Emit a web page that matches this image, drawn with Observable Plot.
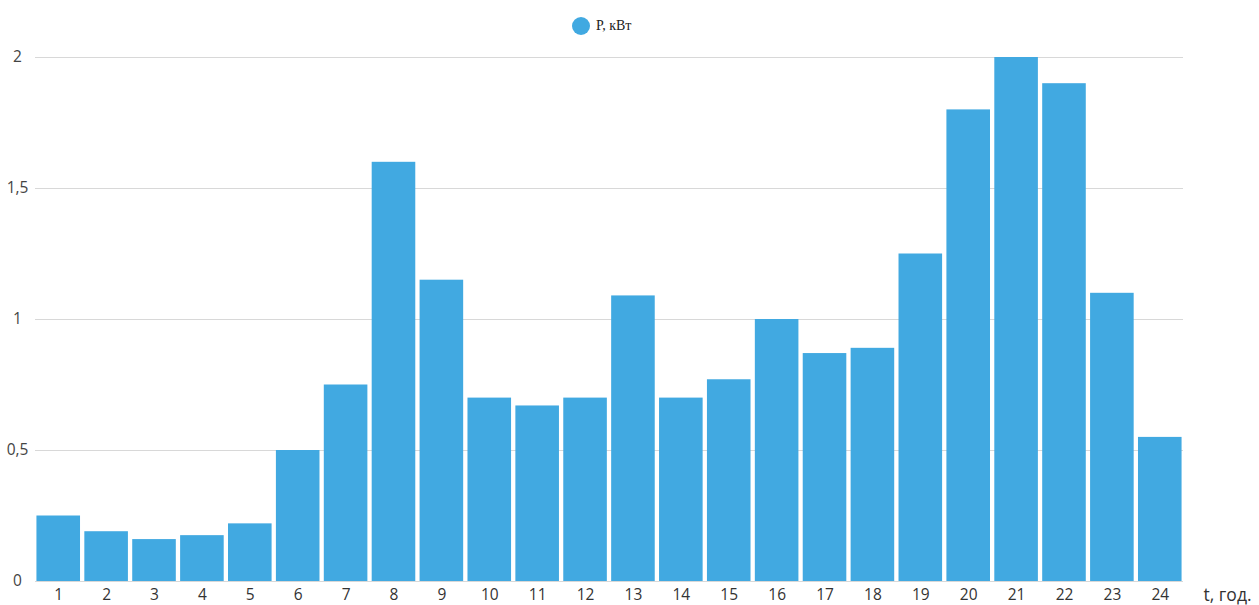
<!DOCTYPE html>
<html>
<head>
<meta charset="utf-8">
<script src="https://cdn.jsdelivr.net/npm/d3@7"></script>
<script src="https://cdn.jsdelivr.net/npm/@observablehq/plot@0.6"></script>
<style>
  html, body { margin: 0; padding: 0; background: #fff; }
  #wrap { position: relative; width: 1259px; height: 605px; font-family: "Open Sans", sans-serif; }
  #legend { position: absolute; left: 572px; top: 17px; height: 18px; display: flex; align-items: center; font-size: 14px; color: #222; font-family: "Liberation Serif", serif; }
  #legend .dot { width: 18px; height: 18px; border-radius: 50%; background: #41A9E1; margin-right: 6px; }
  #chart { position: absolute; left: 0; top: 40px; }
</style>
</head>
<body>
<div id="wrap">
  <div id="legend"><span class="dot"></span><span>P, кВт</span></div>
  <div id="chart"></div>
</div>
<script>
// Hourly power consumption, kW
const hours = [1, 2, 3, 4, 5, 6, 7, 8, 9, 10, 11, 12, 13, 14, 15, 16, 17, 18, 19, 20, 21, 22, 23, 24];
const power = [0.25, 0.19, 0.16, 0.175, 0.22, 0.5, 0.75, 1.6, 1.15, 0.7, 0.67, 0.7, 1.09, 0.7, 0.77, 1.0, 0.87, 0.89, 1.25, 1.8, 2.0, 1.9, 1.1, 0.55];
const yTicks = [0, 0.5, 1, 1.5, 2];
const xLabel = "t, год.";

const rows = hours.map((h, i) => ({hour: h, p: power[i]}));
const fmt = d => String(d).replace(".", ",");

const chart = Plot.plot({
  width: 1259,
  height: 565,
  marginTop: 17,
  marginBottom: 24,
  marginLeft: 35,
  marginRight: 76,
  style: {fontFamily: "'Open Sans', sans-serif", fontSize: "15px", color: "#333", overflow: "visible"},
  x: {type: "band", domain: hours, paddingInner: 0.09, paddingOuter: 0.03, round: false, label: null},
  y: {domain: [0, 2], label: null},
  marks: [
    Plot.gridY(yTicks, {stroke: "#d8d8d8", strokeOpacity: 1}),
    Plot.barY(rows, {x: "hour", y: "p", fill: "#41A9E1"}),
    Plot.axisX({tickSize: 0, tickPadding: 7, fontSize: 15.5, fill: "#333"}),
    Plot.axisY(yTicks, {tickSize: 0, tickPadding: 18, textAnchor: "middle", tickFormat: fmt, fontSize: 15.5, fill: "#444"}),
    Plot.text([xLabel], {frameAnchor: "bottom-right", textAnchor: "start", lineAnchor: "middle", dx: 20, dy: 14, fontSize: 17.5, fill: "#333"})
  ]
});
document.getElementById("chart").appendChild(chart);
</script>
</body>
</html>
